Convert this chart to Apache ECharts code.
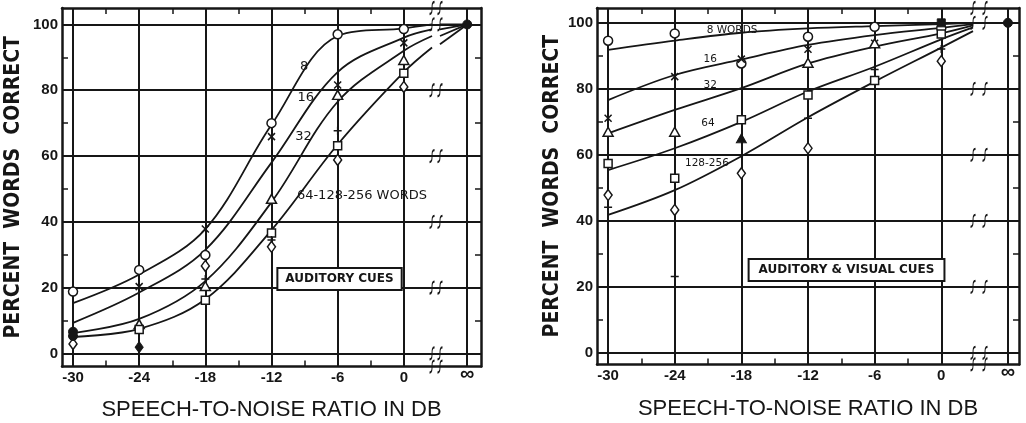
<!DOCTYPE html>
<html><head><meta charset="utf-8">
<script src="https://cdn.jsdelivr.net/npm/echarts@6/dist/echarts.min.js"></script>
<style>html,body{margin:0;padding:0;background:#fff}#c{width:1026px;height:423px}</style>
</head><body><div id="c"></div>
<script>
// ---------- data ----------
const dbTicks = [-30, -24, -18, -12, -6, 0];
const minorDb = [-27, -21, -15, -9, -3];
const pctTicks = [0, 20, 40, 60, 80, 100];
const minorPct = [10, 30, 50, 70, 90];

// LEFT panel: auditory cues
const leftCurveX = [-30, -24, -18, -12, -6, 0, 2.56];
const leftCurve8 = [15.3, 24, 37.8, 69.5, 96.5, 98.8, 100];
const leftCurve16 = [9.3, 18.5, 31.5, 58, 85.5, 96, 98.5];
const leftCurve32 = [6.2, 10.5, 22, 46, 76.5, 92, 96.5];
const leftCurve64 = [5, 7.5, 16.5, 37.5, 63.5, 85.5, 93];
const leftTailStart = [100, 98.5, 96.5, 94];      // values just past the axis break
const leftCircle = [18.8, 25.4, 29.9, 70, 97, 98.6];
const leftCross = [null, 20.3, 37.8, 65.9, 81.6, 94.4];
const leftTriangle = [null, 8.9, 20.5, 47, 78.6, 89.2];
const leftSquare = [null, 7.3, 16.2, 36.6, 63.1, 85.2];
const leftPlus = [null, null, 22.6, 34.5, 67.7, null];
const leftDiamond = [2.9, null, 26.6, 32.4, 58.8, 81];
const leftSolid = [[-30, 6.6, 'circle'], [-30, 5.3, 'circle'], [-24, 1.9, 'diamond'], ['inf', 100, 'circle']];

// RIGHT panel: auditory & visual cues
const rightCurveX = [-30, -24, -18, -12, -6, 0, 2.86];
const rightCurve8 = [91.8, 94.6, 97, 98.3, 99, 99.6, 100];
const rightCurve16 = [76.6, 84.2, 88.9, 93.3, 96.3, 98.5, 99.6];
const rightCurve32 = [66.5, 73.6, 80.2, 87.7, 92.8, 96.8, 99.2];
const rightCurve64 = [55.4, 62, 70, 79.2, 86.7, 95, 98.6];
const rightCurve128 = [41.8, 49.3, 59.6, 71.4, 82.2, 92.5, 97.5];
const rightTailStart = [100];
const rightCircle = [94.6, 96.8, 87.7, 95.8, 98.8, 98.4];
const rightCross = [71.1, 83.7, 89, 92, 93.8, null];
const rightTriangle = [67, 67, null, 87.9, 93.8, null];
const rightSquare = [57.4, 52.9, 70.6, 78.1, 82.5, 96.6];
const rightPlus = [44.1, 23.1, null, 71.1, 85.9, 92.1];
const rightDiamond = [47.8, 43.3, 54.4, 62, null, 88.4];
const rightSolid = [[-18, 65, 'triangle'], [0, 100, 'rect'], ['inf', 100, 'circle']];

const leftNotes = [['8', -9.05, 87.1], ['16', -8.9, 77.9], ['32', -9.1, 65.8], ['64-128-256 WORDS', -3.8, 47.9]];
const leftBox = ['AUDITORY CUES', -5.83, 22.6];
const rightNotes = [['8 WORDS', -18.84, 97.8], ['16', -20.8, 89], ['32', -20.8, 81.2], ['64', -21, 69.7], ['128-256', -21.1, 57.5]];
const rightBox = ['AUDITORY & VISUAL CUES', -8.53, 25.1];

// ---------- chart ----------
const INK = '#161616';
const FONT = "'Liberation Sans', Arial, sans-serif";
const TITLE_FONT = "'Liberation Sans Narrow', 'DejaVu Sans Condensed', 'Liberation Sans', sans-serif";
const SYM = {
  circle: {symbol: 'circle', size: 9},
  cross: {symbol: 'path://M0,0L10,10M10,0L0,10', size: 7},
  triangle: {symbol: 'triangle', size: [10, 9]},
  rect: {symbol: 'rect', size: 8},
  plus: {symbol: 'path://M5,0L5,10M0,5L10,5', size: 8},
  diamond: {symbol: 'diamond', size: [8, 11]}
};
const BREAK_PATH = 'path://M6,0C3,0 3,3 3,6C3,9 3,12 0,12';

const panels = [
  {
    grid: {left: 62, top: 8, width: 419, height: 358.6, outerBoundsMode: 'none', containLabel: false},
    yMin: -4, yMax: 105, inf: 5.75, breaks: [2.56, 3.28], xNameGap: 32, yNameGap: 38,
    curveX: leftCurveX, curves: [leftCurve8, leftCurve16, leftCurve32, leftCurve64], tails: leftTailStart,
    markers: {circle: leftCircle, cross: leftCross, triangle: leftTriangle, rect: leftSquare, plus: leftPlus, diamond: leftDiamond},
    solid: leftSolid, notes: leftNotes, noteSize: 13, box: leftBox, boxPad: [4, 7]
  },
  {
    grid: {left: 597, top: 8, width: 422, height: 356.4, outerBoundsMode: 'none', containLabel: false},
    yMin: -3.5, yMax: 104.5, inf: 6, breaks: [2.86, 3.94], xNameGap: 34, yNameGap: 34,
    curveX: rightCurveX, curves: [rightCurve8, rightCurve16, rightCurve32, rightCurve64, rightCurve128], tails: rightTailStart,
    markers: {circle: rightCircle, cross: rightCross, triangle: rightTriangle, rect: rightSquare, plus: rightPlus, diamond: rightDiamond},
    solid: rightSolid, notes: rightNotes, noteSize: 10.5, box: rightBox, boxPad: [4, 9]
  }
];

const grids = [], xAxes = [], yAxes = [], series = [];
panels.forEach((p, gi) => {
  grids.push(p.grid);
  const xi = xAxes.length, yi = yAxes.length;
  const lineAxis = {show: true, onZero: false, lineStyle: {color: INK, width: 2.5}};
  xAxes.push({
    gridIndex: gi, type: 'value', min: -31, max: 7, position: 'bottom',
    axisLine: lineAxis,
    axisTick: {show: true, inside: true, length: 6, customValues: minorDb, lineStyle: {color: INK, width: 1.5}},
    axisLabel: {show: true, customValues: dbTicks.concat([p.inf]), margin: 4,
      formatter: v => Math.abs(v - p.inf) < 1e-6 ? '{inf|∞}' : String(v),
      color: INK, fontFamily: FONT, fontWeight: 'bold', fontSize: 15,
      rich: {inf: {fontSize: 20, fontWeight: 'bold', color: INK, fontFamily: FONT, padding: [-6, 0, 0, 0]}}},
    splitLine: {show: false},
    name: 'SPEECH-TO-NOISE RATIO IN DB', nameLocation: 'middle', nameGap: p.xNameGap,
    nameTextStyle: {color: INK, fontFamily: FONT, fontSize: 22, fontWeight: 'normal'}
  });
  xAxes.push({
    gridIndex: gi, type: 'value', min: -31, max: 7, position: 'top',
    axisLine: lineAxis,
    axisTick: {show: true, inside: true, length: 6, customValues: minorDb, lineStyle: {color: INK, width: 1.5}},
    axisLabel: {show: false}, splitLine: {show: false}
  });
  yAxes.push({
    gridIndex: gi, type: 'value', min: p.yMin, max: p.yMax, position: 'left',
    axisLine: lineAxis,
    axisTick: {show: true, inside: true, length: 6, customValues: minorPct, lineStyle: {color: INK, width: 1.5}},
    axisLabel: {show: true, customValues: pctTicks, margin: 4, color: INK, fontFamily: FONT, fontWeight: 'bold', fontSize: 15},
    splitLine: {show: false},
    name: 'PERCENT  WORDS  CORRECT', nameLocation: 'middle', nameGap: p.yNameGap, nameRotate: 90,
    nameTextStyle: {color: INK, fontFamily: TITLE_FONT, fontSize: 21, fontWeight: 'bold'}
  });
  yAxes.push({
    gridIndex: gi, type: 'value', min: p.yMin, max: p.yMax, position: 'right',
    axisLine: lineAxis,
    axisTick: {show: true, inside: true, length: 6, customValues: minorPct, lineStyle: {color: INK, width: 1.5}},
    axisLabel: {show: false}, splitLine: {show: false}
  });
  const ax = {xAxisIndex: xi, yAxisIndex: yi};
  const X = v => (v === 'inf' ? p.inf : v);

  // grid lines
  series.push(Object.assign({
    type: 'line', data: [[p.inf, 100]], showSymbol: false, symbol: 'none', silent: true, z: 1,
    lineStyle: {width: 0},
    markLine: {
      silent: true, symbol: ['none', 'none'], animation: false,
      label: {show: false},
      lineStyle: {color: INK, width: 2, type: 'solid', opacity: 1},
      emphasis: {disabled: true},
      data: dbTicks.concat([p.inf]).map(v => ({xAxis: v})).concat(pctTicks.map(v => ({yAxis: v})))
    }
  }, ax));

  // curves
  p.curves.forEach(ys => {
    series.push(Object.assign({
      type: 'line', smooth: 0.35, showSymbol: false, symbol: 'none', silent: true, z: 3,
      data: p.curveX.map((x, i) => [x, ys[i]]),
      lineStyle: {color: INK, width: 1.8, opacity: 1}
    }, ax));
  });
  // after the axis break, to infinity
  p.tails.forEach(v => {
    series.push(Object.assign({
      type: 'line', showSymbol: false, symbol: 'none', silent: true, z: 3,
      data: [[p.breaks[1], v], [p.inf, 100]],
      lineStyle: {color: INK, width: 1.8, opacity: 1}
    }, ax));
  });

  // break marks
  const breakYs = [p.yMin, 0, 20, 40, 60, 80, 100, p.yMax];
  const bdata = [];
  breakYs.forEach(y => p.breaks.forEach(b => bdata.push([b, y])));
  series.push(Object.assign({
    type: 'scatter', symbol: BREAK_PATH, symbolSize: [5, 12], silent: true, z: 4,
    data: bdata,
    itemStyle: {color: 'rgba(0,0,0,0)', borderColor: INK, borderWidth: 1.5, opacity: 1}
  }, ax));

  // markers
  Object.keys(p.markers).forEach(k => {
    const vals = p.markers[k];
    series.push(Object.assign({
      type: 'scatter', symbol: SYM[k].symbol, symbolSize: SYM[k].size, silent: true, z: 5,
      data: dbTicks.map((x, i) => vals[i] == null ? null : [x, vals[i]]).filter(Boolean),
      itemStyle: {color: '#fff', borderColor: INK, borderWidth: 1.5, opacity: 1}
    }, ax));
  });
  series.push(Object.assign({
    type: 'scatter', silent: true, z: 6,
    data: p.solid.map(s => ({value: [X(s[0]), s[1]], symbol: SYM[s[2]].symbol, symbolSize: SYM[s[2]].size})),
    itemStyle: {color: INK, borderColor: INK, borderWidth: 1, opacity: 1}
  }, ax));

  // curve labels
  series.push(Object.assign({
    type: 'scatter', symbolSize: 1, silent: true, z: 7,
    data: p.notes.map(n => ({value: [n[1], n[2]], name: n[0]})),
    itemStyle: {color: 'rgba(0,0,0,0)', opacity: 1},
    label: {show: true, position: 'inside', formatter: d => d.name, color: INK, opacity: 1,
      textBorderWidth: 0, fontFamily: "'DejaVu Sans', sans-serif", fontSize: p.noteSize}
  }, ax));
  // boxed caption
  series.push(Object.assign({
    type: 'scatter', symbolSize: 1, silent: true, z: 8,
    data: [{value: [p.box[1], p.box[2]], name: p.box[0]}],
    itemStyle: {color: 'rgba(0,0,0,0)', opacity: 1},
    label: {show: true, position: 'inside', formatter: d => d.name, color: INK, opacity: 1,
      textBorderWidth: 0, fontFamily: "'DejaVu Sans', sans-serif", fontWeight: 'bold', fontSize: 12,
      backgroundColor: '#fff', borderColor: INK, borderWidth: 2, padding: p.boxPad}
  }, ax));
});

const chart = echarts.init(document.getElementById('c'), null, {renderer: 'canvas'});
chart.setOption({
  backgroundColor: '#fff',
  animation: false,
  grid: grids,
  xAxis: xAxes,
  yAxis: yAxes,
  series: series
});
</script>
</body></html>
